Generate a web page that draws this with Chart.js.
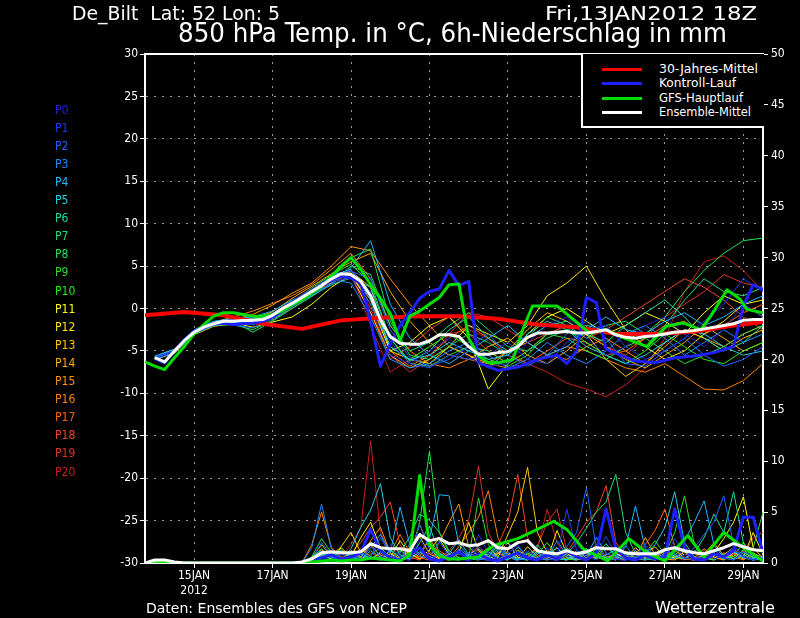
<!DOCTYPE html>
<html>
<head>
<meta charset="utf-8">
<script src="https://cdn.jsdelivr.net/npm/chart.js@4.4.0/dist/chart.umd.min.js"></script>
<style>
  html, body { margin: 0; padding: 0; background: #000; }
  #wrap { position: relative; width: 800px; height: 618px; background: #000; overflow: hidden;
          font-family: "DejaVu Sans Condensed", "DejaVu Sans", sans-serif; color: #fff; }
  #wrap canvas { position: absolute; left: 0; top: 0; }
  .t { position: absolute; white-space: nowrap; line-height: 1; transform-origin: left top; }
  .plab { position: absolute; left: 55px; font-size: 12px; line-height: 12px; white-space: nowrap; }
  #legend { position: absolute; left: 581px; top: 54px; width: 181px; height: 72px; background: #000;
            border-left: 2px solid #fff; border-bottom: 2px solid #fff; }
  #legend .sw { position: absolute; left: 19px; width: 40px; height: 3px; }
  #legend .lt { position: absolute; left: 76px; font-size: 12px; line-height: 12px; white-space: nowrap; transform-origin: left top; }
</style>
</head>
<body>
<div id="wrap">
  <canvas id="chart" width="800" height="618"></canvas>

  <div class="t" data-w="208" style="left:72px; top:4px; font-size:19px;">De_Bilt&nbsp;&nbsp;Lat: 52 Lon: 5</div>
  <div class="t" data-w="212" style="left:545px; top:4px; font-size:19px;">Fri,13JAN2012 18Z</div>
  <div class="t" data-w="549" style="left:178px; top:20px; font-size:26px;">850 hPa Temp. in °C, 6h-Niederschlag in mm</div>
  <div class="t" data-w="261" style="left:146px; top:601px; font-size:14px;">Daten: Ensembles des GFS von NCEP</div>
  <div class="t" data-w="120" style="left:655px; top:600px; font-size:16px;">Wetterzentrale</div>

  <div id="plabels"></div>

  <div id="legend">
    <div class="sw" style="top:14px; background:#ff0000;"></div>
    <div class="lt" data-w="99" style="top:9px;">30-Jahres-Mittel</div>
    <div class="sw" style="top:28px; background:#2020ff;"></div>
    <div class="lt" data-w="77" style="top:23px;">Kontroll-Lauf</div>
    <div class="sw" style="top:43px; background:#00dd00;"></div>
    <div class="lt" data-w="84" style="top:38px;">GFS-Hauptlauf</div>
    <div class="sw" style="top:57px; background:#ffffff;"></div>
    <div class="lt" data-w="92" style="top:52px;">Ensemble-Mittel</div>
  </div>
</div>

<script>
// hours after 13JAN2012 18Z
const TICK_HOURS = [30, 78, 126, 174, 222, 270, 318, 366];
const TICK_LABELS = [["15JAN", "2012"], "17JAN", "19JAN", "21JAN", "23JAN", "25JAN", "27JAN", "29JAN"];

const MEMBER_NAMES = ["P0","P1","P2","P3","P4","P5","P6","P7","P8","P9","P10",
                      "P11","P12","P13","P14","P15","P16","P17","P18","P19","P20"];
const MEMBER_COLORS = ["#2222d2","#1c3cf0","#1e64ff","#1e8cff","#1eb6ff","#20d2e6","#20dca0",
                       "#20dc78","#20e050","#30dc30","#20f000","#ffff00","#ffe600","#ffc800",
                       "#ffaa00","#ff9600","#ff8200","#ff6400","#f04628","#dc3228","#c81e1e"];

// 12-hourly member temperatures
const MEMBER_HOURS = [6,18,30,42,54,66,78,90, 102,114,126,138,150,162,174,186,
                      198,210,222,234,246,258,270,282, 294,306,318,330,342,354,366,378];
const TEMP_P0 = [-5.9,-5.1,-2.9,-1.9,-1.8,-1.6,-1.0,0.4, 1.8,3.2,3.6,0.5,-5.5,-6.5,-5.0,-3.5, -5.8,-6.8,-6.5,-4.0,-2.0,-1.0,-3.5,-5.5, -4.5,-2.0,-1.0,-3.0,-4.5,-2.5,0.5,-1.0];
const TEMP_P1 = [-5.7,-5.0,-2.6,-1.7,-1.3,-1.8,-0.6,0.9, 2.3,3.8,4.5,2.0,-4.0,-6.5,-7.0,-5.5, -6.0,-5.5,-4.0,-6.0,-6.5,-4.0,-2.5,-2.0, -4.5,-6.0,-5.0,-3.5,-1.5,0.5,3.5,2.0];
const TEMP_P2 = [-5.8,-4.9,-2.7,-1.6,-1.9,-2.3,-1.2,0.2, 1.6,2.9,4.4,3.5,-2.5,-5.8,-6.8,-6.0, -4.5,-3.0,-5.5,-6.8,-5.5,-3.0,-1.5,-3.5, -6.5,-6.8,-5.0,-3.5,-5.5,-6.8,-6.0,-4.5];
const TEMP_P3 = [-6.0,-5.2,-3.0,-2.0,-1.7,-1.5,-0.9,0.7, 2.2,3.4,3.0,-1.0,-6.0,-7.0,-6.5,-5.0, -4.0,-5.5,-7.0,-6.0,-4.0,-5.5,-6.5,-5.0, -3.0,-2.0,-3.5,-5.5,-4.0,-2.5,-4.0,-3.0];
const TEMP_P4 = [-5.6,-4.8,-2.5,-1.5,-1.2,-1.0,-0.3,1.0, 1.8,2.8,4.8,8.0,0.5,-3.5,-5.5,-6.5, -5.0,-3.5,-2.0,-4.0,-5.5,-4.5,-2.5,-1.0, -2.5,-3.0,-1.5,-0.5,-2.0,-1.0,0.5,1.5];
const TEMP_P5 = [-5.9,-5.1,-2.8,-1.8,-1.4,-1.2,-0.8,0.5, 2.1,3.9,4.6,1.0,-4.5,-6.0,-5.5,-4.0, -5.0,-6.0,-5.5,-3.0,-1.5,-2.5,-4.5,-5.5, -6.5,-5.5,-4.0,-2.5,-3.0,-4.5,-5.5,-5.0];
const TEMP_P6 = [-5.7,-5.0,-2.9,-1.9,-1.6,-1.9,-1.1,0.3, 1.5,2.8,3.6,2.5,-3.5,-6.2,-5.0,-2.5, -1.0,-3.5,-5.0,-3.5,-2.0,-1.5,-3.0,-4.0, -2.0,-0.5,1.0,-1.0,-3.5,-5.0,-4.0,-2.0];
const TEMP_P7 = [-5.8,-5.0,-2.8,-1.7,-1.5,-2.8,-1.5,0.0, 1.4,3.0,5.0,4.0,-2.0,-5.0,-4.0,-2.0, -0.5,-2.5,-4.5,-5.0,-3.5,-2.5,-2.0,-2.5, -3.5,-4.5,-2.0,1.0,3.5,2.0,1.5,2.5];
const TEMP_P8 = [-5.9,-5.2,-3.0,-2.0,-1.9,-2.5,-1.4,0.2, 1.7,3.5,6.0,7.0,-1.5,-5.5,-6.0,-4.5, -3.0,-4.0,-5.5,-3.5,-1.0,-2.0,-3.5,-2.0, -1.5,-3.0,-1.0,2.0,4.5,6.5,8.0,8.3];
const TEMP_P9 = [-5.7,-4.9,-2.7,-1.6,-1.4,-1.3,-0.7,0.8, 2.4,4.0,5.2,3.0,-3.5,-6.5,-6.8,-5.5, -4.5,-5.0,-6.5,-5.0,-3.0,-3.5,-5.0,-6.0, -4.5,-3.5,-5.0,-6.5,-5.5,-4.5,-3.0,-2.0];
const TEMP_P10 = [-5.8,-5.1,-2.9,-1.8,-1.6,-1.5,-0.9,0.6, 2.0,3.6,4.2,1.5,-4.5,-6.0,-4.5,-3.0, -4.5,-6.0,-6.8,-5.5,-3.0,-2.5,-4.0,-5.5, -6.5,-5.0,-3.0,-4.5,-6.0,-6.5,-5.0,-4.0];
const TEMP_P11 = [-5.7,-4.8,-2.6,-1.6,-1.7,-2.2,-1.6,-1.0, 0.5,2.5,4.0,0.5,-5.0,-4.0,-2.0,-1.0, -3.5,-9.5,-6.5,-3.0,-1.0,0.0,-1.5,-3.0, -2.0,-0.5,-1.5,-3.0,-0.5,1.5,0.5,-1.0];
const TEMP_P12 = [-5.9,-5.0,-2.8,-1.9,-1.5,-1.3,-0.8,0.4, 1.9,3.7,4.4,2.5,-5.0,-6.0,-6.5,-4.5, -2.0,-3.0,-4.0,-2.0,1.5,3.0,5.0,1.0, -2.5,-4.5,-6.0,-5.0,-3.0,-1.5,0.5,1.0];
const TEMP_P13 = [-6.0,-5.3,-3.1,-2.1,-1.8,-1.6,-1.1,0.3, 1.7,3.3,3.9,-0.5,-5.5,-7.0,-6.0,-4.5, -5.5,-7.0,-5.0,-2.5,-0.5,-1.5,-3.0,-6.0, -8.0,-6.5,-4.0,-2.5,-3.5,-5.0,-3.5,-2.5];
const TEMP_P14 = [-5.8,-5.0,-2.7,-1.7,-1.4,-1.2,-0.4,1.2, 2.6,4.1,5.5,6.5,2.0,-1.5,-4.0,-5.5, -6.0,-4.5,-3.5,-5.5,-6.5,-5.0,-3.0,-4.5, -6.0,-7.0,-5.5,-4.0,-2.0,-3.5,-5.0,-4.0];
const TEMP_P15 = [-5.9,-5.1,-2.9,-1.8,-1.3,-0.7,0.4,1.8, 3.0,5.0,7.3,6.8,3.5,0.5,-2.0,-4.5, -5.5,-6.5,-5.0,-4.0,-5.5,-6.0,-4.5,-3.5, -5.0,-6.5,-4.5,-2.5,-3.5,-4.5,-3.0,-2.0];
const TEMP_P16 = [-5.7,-4.9,-2.6,-1.6,-1.0,-0.3,0.6,1.5, 2.8,4.6,6.5,3.5,-2.0,-5.0,-6.5,-7.0, -6.0,-6.5,-7.0,-6.5,-5.5,-4.5,-5.0,-6.0, -7.0,-7.5,-6.5,-8.0,-9.5,-9.6,-8.5,-6.5];
const TEMP_P17 = [-5.8,-5.0,-2.8,-1.8,-1.4,-1.2,-0.6,0.9, 2.3,3.4,3.9,1.0,-5.0,-6.8,-5.5,-3.5, -2.0,-3.5,-5.5,-6.5,-5.0,-3.5,-4.0,-5.5, -5.0,-3.5,-2.0,-1.5,-3.0,-2.0,-0.5,0.5];
const TEMP_P18 = [-5.9,-5.2,-3.0,-1.9,-1.6,-1.7,-1.2,0.0, 1.6,3.1,3.7,-0.5,-6.0,-4.5,-2.5,-1.0, -3.0,-5.0,-6.5,-5.0,-3.0,-2.0,-3.5,-2.5, -1.0,0.5,2.0,3.5,2.5,1.0,-1.0,-2.5];
const TEMP_P19 = [-5.7,-4.9,-2.7,-1.7,-1.5,-1.4,-0.9,0.5, 2.0,3.5,4.1,0.0,-5.5,-7.5,-6.0,-3.0, -0.5,-1.0,-2.5,-4.0,-3.0,-2.0,-2.5,-4.5, -5.5,-3.5,-1.0,0.5,2.0,4.0,3.0,2.5];
const TEMP_P20 = [-5.8,-5.1,-2.8,-1.8,-1.5,-1.3,-0.7,0.6, 2.1,3.6,4.3,-2.0,-7.5,-6.0,-4.5,-3.0, -2.5,-3.5,-5.0,-6.5,-7.5,-8.8,-9.5,-10.4, -9.0,-7.0,-3.5,2.0,5.5,6.2,4.5,2.0];

// 6-hourly member precipitation (mm), from 96h on
const RAIN_HOURS = [96,102,108,114,120,126,132,138, 144,150,156,162,168,174,180,186,
                    192,198,204,210,216,222,228,234, 240,246,252,258,264,270,276,282,
                    288,294,300,306,312,318,324,330, 336,342,348,354,360,366,372,378];
const RAIN_P0 = [0,0.2,0.6,0.3,0.9,0.4,1.2,0.5, 0.3,1.8,0.6,0.2,2.4,0.8,0.3,1.1, 0.4,0.2,1.6,0.9,0.3,2.2,0.7,0.4, 1.3,0.5,0.2,0.8,1.9,0.6,0.3,1.0, 0.4,0.2,1.4,0.6,0.3,0.9,1.7,0.5, 0.3,1.1,0.4,0.7,1.5,0.6,0.3,0.8];
const RAIN_P1 = [0,0.4,1.2,0.5,0.3,0.8,0.4,1.6, 0.7,0.3,1.0,0.5,3.8,1.4,0.6,0.3, 1.2,0.5,2.8,1.0,0.4,0.9,1.8,0.6, 0.3,1.5,0.6,5.3,1.2,0.4,0.9,2.6, 0.8,0.3,0.6,1.8,0.5,0.3,2.4,0.9, 0.4,0.6,1.3,0.5,0.3,1.1,0.7,0.4];
const RAIN_P2 = [0,0.3,2.0,0.8,0.4,0.3,1.0,0.6, 2.5,0.8,0.3,0.6,1.4,0.5,2.1,0.7, 0.3,1.0,0.4,0.3,1.5,0.6,0.2,1.2, 0.5,0.3,0.8,1.6,3.0,7.4,1.5,0.6, 0.3,0.8,0.4,1.2,0.5,0.3,0.9,0.4, 1.5,2.8,4.0,6.6,1.8,0.6,0.3,0.5];
const RAIN_P3 = [0,1.5,5.8,1.4,0.5,0.3,0.8,0.4, 1.1,0.6,0.3,1.9,0.7,0.4,0.9,0.3, 1.4,0.6,0.3,0.8,2.0,0.7,0.4,0.3, 1.0,0.5,2.2,0.8,0.4,1.3,0.6,0.3, 0.8,1.7,0.5,0.3,1.0,0.6,0.4,1.4, 0.5,0.3,0.9,0.4,1.2,0.6,0.3,0.5];
const RAIN_P4 = [0,0.3,0.8,0.5,1.2,0.6,0.4,1.5, 2.8,1.0,5.5,1.8,0.9,2.4,6.7,6.6, 1.8,0.7,0.4,1.1,0.5,0.3,1.6,0.6, 0.4,1.0,0.5,0.3,1.2,0.7,2.5,1.0, 0.5,1.6,5.6,1.4,0.6,0.3,1.0,2.2, 4.0,6.1,1.8,0.5,0.3,0.8,0.4,0.6];
const RAIN_P5 = [0,0.4,1.0,0.6,0.3,1.4,3.5,5.2, 7.8,2.5,0.8,0.4,1.1,0.5,0.3,0.9, 2.3,0.8,0.4,0.3,1.2,0.5,0.9,0.4, 0.3,0.7,1.5,0.6,0.3,1.0,0.4,0.8, 1.3,0.5,0.3,0.9,1.8,3.5,7.0,2.0, 0.6,0.3,0.8,0.4,1.1,0.5,0.3,0.4];
const RAIN_P6 = [0,0.2,0.5,0.9,0.4,0.3,1.1,0.6, 0.3,1.3,0.5,0.4,2.0,3.6,1.0,0.5, 0.3,0.8,1.4,0.6,0.3,1.0,0.5,0.3, 1.8,0.7,0.4,0.3,1.2,0.5,0.8,1.9, 0.6,0.3,1.0,0.4,0.7,1.5,0.6,0.4, 1.0,2.5,4.8,3.0,7.0,2.0,0.5,0.4];
const RAIN_P7 = [0,0.5,1.4,0.6,0.3,0.9,0.4,1.2, 0.6,0.3,1.0,2.6,4.8,4.2,3.0,1.2, 0.5,0.3,1.0,0.6,1.8,0.7,0.3,0.5, 1.1,0.4,0.3,0.9,2.0,3.4,5.0,6.0, 8.7,3.0,0.9,0.4,0.3,1.0,0.6,0.4, 1.2,0.5,0.3,0.8,0.4,1.0,0.6,0.3];
const RAIN_P8 = [0,0.6,2.4,1.0,0.4,0.3,0.9,0.5, 0.3,1.2,0.6,0.4,4.0,11.0,3.0,1.0, 0.4,0.3,0.9,0.5,1.4,0.6,0.3,1.0, 0.5,0.3,0.8,1.5,0.6,0.4,1.1,0.5, 0.3,0.9,0.4,1.3,0.6,0.3,0.8,0.5, 0.3,1.0,0.4,0.7,1.2,0.5,1.5,5.0];
const RAIN_P9 = [0,0.3,0.9,0.5,1.3,0.6,0.3,0.8, 1.5,0.6,0.3,1.0,8.0,2.0,0.7,0.4, 0.9,0.5,6.4,1.8,0.6,0.3,1.2,0.5, 0.8,2.0,0.7,0.4,0.3,1.0,0.5,1.6, 0.7,0.4,0.3,1.0,2.2,0.8,3.0,6.6, 1.8,0.6,0.3,0.9,0.4,1.3,0.5,0.3];
const RAIN_P10 = [0,0.2,0.7,1.1,0.5,0.3,0.9,0.4, 0.6,0.3,1.2,0.7,8.5,2.2,0.6,0.3, 1.0,0.4,0.3,0.8,1.6,0.6,0.3,0.9, 0.5,1.2,0.5,0.3,0.7,0.4,1.4,0.6, 0.3,0.9,0.5,0.3,1.1,0.4,0.8,1.5, 0.5,0.3,1.0,0.4,0.6,2.0,0.7,0.4];
const RAIN_P11 = [0,0.3,0.8,0.4,1.5,0.6,2.5,4.0, 1.5,0.6,0.3,0.9,0.4,1.3,2.4,0.8, 0.5,0.3,1.0,0.4,0.9,2.0,0.6,0.3, 1.4,0.5,0.3,0.8,0.4,1.2,0.6,0.3, 0.9,0.4,1.5,0.6,0.3,0.8,0.5,1.1, 0.6,0.3,1.0,2.4,4.0,6.5,1.5,0.5];
const RAIN_P12 = [0,0.4,1.0,0.5,0.3,1.2,0.6,0.4, 1.0,0.5,2.2,0.8,3.8,1.4,0.5,0.3, 1.0,4.0,1.2,0.5,0.3,0.9,0.4,1.6, 0.6,0.3,3.2,0.9,0.4,0.3,1.0,0.5, 0.8,0.3,1.2,0.5,0.3,0.9,0.6,0.4, 1.1,0.5,0.3,0.8,1.5,0.6,3.0,0.8];
const RAIN_P13 = [0,0.5,1.8,0.7,1.6,3.0,1.0,0.5, 0.3,0.9,0.4,1.2,2.6,0.9,0.4,0.3, 1.1,0.5,0.8,1.5,0.6,2.8,5.0,9.4, 3.0,1.0,0.5,0.3,0.8,1.4,0.6,0.3, 1.0,0.5,0.3,0.9,1.6,0.6,0.4,1.1, 0.5,0.3,0.8,0.4,1.0,0.6,0.3,0.5];
const RAIN_P14 = [0,0.3,0.9,0.4,0.3,1.0,0.5,1.8, 0.7,0.4,0.3,1.6,7.8,2.0,0.8,0.4, 0.3,1.0,0.5,0.9,0.4,0.3,1.3,0.6, 0.3,0.8,1.5,0.5,0.3,1.1,0.4,0.6, 0.3,1.0,0.5,2.5,0.8,0.4,0.3,0.9, 0.5,1.4,0.6,0.3,0.8,0.4,1.0,0.5];
const RAIN_P15 = [0,0.6,1.3,0.5,0.3,0.9,0.4,2.2, 3.5,1.0,0.4,0.8,1.5,0.6,2.0,4.0, 5.8,1.6,0.6,0.3,1.0,0.5,0.8,0.4, 1.2,0.6,0.3,0.9,0.5,1.4,0.6,0.3, 1.0,0.4,0.3,0.8,0.5,1.2,0.6,0.4, 0.3,0.9,2.0,0.7,0.4,1.1,0.5,0.3];
const RAIN_P16 = [0,1.8,5.0,1.5,0.6,0.3,1.0,0.5, 0.8,0.4,0.3,1.2,0.6,2.4,0.9,0.5, 1.6,3.0,4.5,7.1,2.4,0.8,0.4,0.3, 1.0,0.5,0.8,0.4,0.3,1.1,0.6,0.4, 0.9,0.5,0.3,1.0,0.4,0.6,1.3,0.5, 0.3,0.8,0.4,1.0,0.6,0.3,0.9,0.5];
const RAIN_P17 = [0,0.4,0.8,0.4,0.9,0.5,1.4,0.6, 0.3,1.0,2.8,1.0,0.5,0.3,1.2,0.6, 0.3,0.8,1.6,0.6,0.3,1.0,0.5,0.8, 0.4,1.3,0.6,0.3,0.9,0.5,1.8,0.7, 0.4,0.3,1.0,1.8,3.2,5.3,1.6,0.5, 0.3,1.0,0.5,0.8,1.4,0.6,0.3,0.7];
const RAIN_P18 = [0,0.3,0.7,0.4,0.3,1.0,2.0,3.5, 4.5,6.0,1.8,0.6,0.3,1.1,0.5,0.9, 0.4,0.3,1.3,0.6,1.8,4.0,8.7,2.5, 0.8,0.4,0.3,1.0,2.5,4.0,5.0,7.6, 2.0,0.7,0.4,0.3,1.0,0.5,0.8,0.4, 0.3,1.2,0.6,0.4,0.9,0.5,0.3,0.6];
const RAIN_P19 = [0,0.5,1.1,0.5,0.3,0.8,0.4,1.0, 0.6,0.3,1.5,0.6,0.3,0.9,0.5,1.2, 2.5,4.2,9.5,3.0,1.0,0.3,0.9,0.5, 1.6,4.0,5.3,1.2,0.5,0.3,1.0,0.6, 0.4,1.1,0.5,0.3,0.8,0.4,1.2,0.6, 0.3,0.9,0.5,0.3,1.0,0.6,2.5,3.0];
const RAIN_P20 = [0,0.2,0.6,1.0,0.5,1.8,3.5,12.0, 3.0,1.0,0.4,0.3,0.9,0.5,0.3,1.2, 0.6,0.3,0.8,0.4,1.1,0.5,0.3,0.9, 1.4,5.3,2.0,0.6,0.3,0.8,0.4,1.0, 0.5,0.3,1.2,0.6,0.4,0.9,0.5,0.3, 1.0,0.4,0.8,0.5,0.3,1.2,0.6,0.4];

const MEMBER_TEMPS = [TEMP_P0,TEMP_P1,TEMP_P2,TEMP_P3,TEMP_P4,TEMP_P5,TEMP_P6,TEMP_P7,TEMP_P8,TEMP_P9,TEMP_P10,
                      TEMP_P11,TEMP_P12,TEMP_P13,TEMP_P14,TEMP_P15,TEMP_P16,TEMP_P17,TEMP_P18,TEMP_P19,TEMP_P20];
const MEMBER_RAINS = [RAIN_P0,RAIN_P1,RAIN_P2,RAIN_P3,RAIN_P4,RAIN_P5,RAIN_P6,RAIN_P7,RAIN_P8,RAIN_P9,RAIN_P10,
                      RAIN_P11,RAIN_P12,RAIN_P13,RAIN_P14,RAIN_P15,RAIN_P16,RAIN_P17,RAIN_P18,RAIN_P19,RAIN_P20];

// 30-Jahres-Mittel (daily)
const CLIM_HOURS = [0,24,48,72,96,120,144,168,192,216,240,264,288,312,336,360,378];
const CLIM_TEMP = [-0.8,-0.4,-0.8,-1.8,-2.4,-1.4,-1.1,-0.9,-0.9,-1.2,-1.9,-2.2,-3.0,-3.0,-2.7,-2.0,-1.6];

// Ensemble-Mittel (6-hourly)
const MEAN_HOURS = [6,12,18,24,30,36,42,48,54,60,66,72,78,84,90,96,102,108,114,120,126,132,138,144,150,156,162,168,
                    174,180,186,192,198,204,210,216,222,228,234,240,246,252,258,264,270,276,282,288,294,300,306,312,
                    318,324,330,336,342,348,354,360,366,372,378];
const MEAN_TEMP = [-5.8,-6.3,-5.0,-3.8,-2.8,-2.2,-1.8,-1.5,-1.5,-1.4,-1.4,-1.3,-0.8,0.0,0.6,1.3,2.0,2.7,3.5,4.1,4.0,3.2,1.5,-1.3,
                   -3.3,-4.1,-4.2,-4.2,-3.8,-3.1,-3.1,-3.3,-4.5,-5.4,-5.4,-5.2,-5.1,-4.5,-3.4,-2.9,-2.9,-2.8,-2.7,-2.9,-2.9,
                   -2.7,-2.5,-3.1,-3.4,-3.5,-3.3,-3.2,-3.0,-2.8,-2.7,-2.6,-2.4,-2.2,-2.0,-1.8,-1.4,-1.3,-1.3];
const MEAN_RAIN_HOURS = [0,6,12,18,24,30,36,42,48,54,60,66,72,78,84,90,96,102,108,114,120,126,132,138,144,150,156,162,
                         168,174,180,186,192,198,204,210,216,222,228,234,240,246,252,258,264,270,276,282,288,294,300,306,
                         312,318,324,330,336,342,348,354,360,366,372,378];
const MEAN_RAIN = [0,0.3,0.3,0.1,0,0,0,0,0,0,0,0,0,0,0,0,0.1,0.4,1.0,1.1,1.0,1.0,1.1,1.9,1.5,1.4,1.4,1.2,
                   2.8,2.2,2.4,1.9,2.0,1.7,1.8,2.2,1.5,1.4,2.0,2.2,1.2,1.0,0.9,1.2,0.9,1.1,1.5,1.4,1.4,1.0,0.9,0.9,
                   0.9,1.3,1.5,1.2,1.0,0.9,1.2,1.5,1.9,1.6,1.3,1.2];

// GFS-Hauptlauf
const GFS_HOURS = [0,6,12,18,24,30,36,42,48,54,60,66,72,78,84,90,96,102,108,114,120,126,132,138,144,150,156,162,168,174,180,186,192,
                   198,204,210,216,225,231,237,252,262,272,282,291,307,319,329,340,346,356,364,368,378];
const GFS_TEMP = [-6.3,-6.8,-7.2,-5.8,-4.5,-3.0,-1.9,-0.9,-0.5,-0.5,-0.7,-0.9,-0.9,-0.7,-0.3,0.4,1.0,1.8,2.6,3.8,5.0,6.0,4.6,2.8,1.2,-0.6,-3.8,-0.9,-0.3,0.5,1.3,2.8,2.9,
                  -3.5,-5.6,-6.4,-6.4,-6.0,-2.5,0.3,0.3,-1.3,-2.9,-2.5,-3.3,-4.5,-2.1,-1.7,-2.5,-0.9,2.2,1.1,-0.1,-0.5];
const GFS_RAIN_HOURS = [0,6,12,18,24,90,96,102,108,114,120,126,132,138,144,150,156,162,168,174,180,186,192,
                        204,213,228,240,250,258,268,283,296,307,318,332,342,354,366,378];
const GFS_RAIN = [0,0.2,0.1,0,0,0,0,0.1,0.2,0.3,0.2,0.3,0.3,0.5,0.4,0.3,0.2,0.8,8.6,1.8,0.7,0.4,0.4,
                  0.6,1.7,2.4,3.3,4.1,3.3,1.4,0.2,2.4,1.0,0.2,2.7,0.6,3.0,1.5,0.2];

// Kontroll-Lauf
const CTRL_HOURS = [6,12,18,24,30,36,42,48,54,60,66,72,78,84,90,96,102,108,114,120,126,132,138,144,150,156,162,168,174,180,186,192,198,
                    204,216,228,240,252,258,264,270,276,282,288,300,312,324,336,348,360,366,372,378];
const CTRL_TEMP = [-5.9,-6.4,-5.0,-3.7,-2.7,-2.2,-1.8,-1.7,-1.9,-1.8,-1.7,-1.5,-1.0,-0.3,0.3,1.0,1.8,2.7,3.4,3.8,3.6,3.0,-1.5,-6.8,-4.2,-2.0,-0.5,1.2,2.0,2.3,4.5,2.7,3.2,
                   -6.4,-7.3,-6.9,-6.0,-5.5,-6.5,-5.0,1.3,0.7,-4.8,-5.3,-6.2,-6.4,-5.8,-5.6,-5.2,-4.5,0.3,2.8,2.2];
const CTRL_RAIN = [0,0.2,0.5,0.8,0.4,0.6,1.0,3.3, 1.2,0.5,0.3,0.8,1.5,0.4,0.2,0.6, 1.1,0.3,0.9,0.4,0.2,0.6,1.0,0.5,
                   0.3,0.8,0.4,1.2,0.6,0.3,1.0,5.3, 1.4,0.5,0.3,0.8,0.4,0.6,5.3,1.5, 0.4,0.3,0.9,0.6,1.2,4.5,4.5,1.0];

function pts(hours, vals) {
  return hours.map((h, i) => ({ x: h, y: vals[i] }));
}

function line(data, color, width, axis, order) {
  return {
    data: data, borderColor: color, backgroundColor: color, borderWidth: width,
    yAxisID: axis, order: order, pointRadius: 0, tension: 0, fill: false,
    borderJoinStyle: "round"
  };
}

const datasets = [];
datasets.push(line(pts(MEAN_HOURS, MEAN_TEMP), "#ffffff", 3, "y", 1));
datasets.push(line(pts(MEAN_RAIN_HOURS, MEAN_RAIN), "#ffffff", 3, "y2", 1));
datasets.push(line(pts(GFS_HOURS, GFS_TEMP), "#00dd00", 3, "y", 2));
datasets.push(line(pts(GFS_RAIN_HOURS, GFS_RAIN), "#00dd00", 3, "y2", 2));
datasets.push(line(pts(CTRL_HOURS, CTRL_TEMP), "#2020ff", 3, "y", 3));
datasets.push(line(pts(RAIN_HOURS, CTRL_RAIN), "#2020ff", 3, "y2", 3));
datasets.push(line(pts(CLIM_HOURS, CLIM_TEMP), "#ff0000", 4, "y", 4));
MEMBER_TEMPS.forEach((vals, i) => {
  datasets.push(line(pts(MEMBER_HOURS, vals), MEMBER_COLORS[i], 1, "y", 10));
});
MEMBER_RAINS.forEach((vals, i) => {
  datasets.push(line(pts(RAIN_HOURS, vals), MEMBER_COLORS[i], 1, "y2", 10));
});

// white line on top of the plot frame
const frameTop = {
  id: "frameTop",
  afterDraw(chart) {
    const { ctx, chartArea: a } = chart;
    ctx.save();
    ctx.strokeStyle = "#ffffff";
    ctx.lineWidth = 2;
    ctx.beginPath();
    ctx.moveTo(a.left - 1, a.top);
    ctx.lineTo(a.right + 1, a.top);
    ctx.stroke();
    ctx.restore();
  }
};

const tickFont = { family: "'DejaVu Sans Condensed', 'DejaVu Sans', sans-serif", size: 12 };
const gridStyle = { color: "#9a9a9a", lineWidth: 1, tickLength: 5, tickColor: "#ffffff", tickWidth: 1 };

new Chart(document.getElementById("chart").getContext("2d"), {
  type: "line",
  data: { datasets: datasets },
  options: {
    responsive: false,
    animation: false,
    devicePixelRatio: 1,
    layout: { padding: { top: 54, left: 0, right: 0, bottom: 0 } },
    plugins: { legend: { display: false }, tooltip: { enabled: false } },
    scales: {
      x: {
        type: "linear", min: 0, max: 378,
        afterBuildTicks: (axis) => { axis.ticks = TICK_HOURS.map(v => ({ value: v })); },
        afterFit: (axis) => { axis.height = 55; },
        ticks: {
          color: "#ffffff", font: tickFont, padding: 1, autoSkip: false, maxRotation: 0,
          callback: (value, index) => TICK_LABELS[index]
        },
        grid: gridStyle,
        border: { display: true, color: "#ffffff", width: 2, dash: [2, 6] }
      },
      y: {
        position: "left", min: -30, max: 30,
        afterFit: (axis) => { axis.width = 145; },
        ticks: { stepSize: 5, color: "#ffffff", font: tickFont, padding: 2 },
        grid: gridStyle,
        border: { display: true, color: "#ffffff", width: 2, dash: [2, 6] }
      },
      y2: {
        position: "right", min: 0, max: 50,
        afterFit: (axis) => { axis.width = 37; },
        ticks: { stepSize: 5, color: "#ffffff", font: tickFont, padding: 3 },
        grid: { drawOnChartArea: false, tickLength: 5, tickColor: "#ffffff" },
        border: { display: true, color: "#ffffff", width: 2 }
      }
    }
  },
  plugins: [frameTop]
});

// member labels on the left
const plabels = document.getElementById("plabels");
MEMBER_NAMES.forEach((name, i) => {
  const d = document.createElement("div");
  d.className = "plab";
  d.textContent = name;
  d.style.color = MEMBER_COLORS[i];
  d.style.top = (103.5 + i * 18.1) + "px";
  plabels.appendChild(d);
});

// squeeze texts to the widths in the picture
document.querySelectorAll("[data-w]").forEach(el => {
  el.style.display = "inline-block";
  const w = el.getBoundingClientRect().width;
  if (w > 0) el.style.transform = "scaleX(" + (parseFloat(el.dataset.w) / w) + ")";
});
</script>
</body>
</html>
